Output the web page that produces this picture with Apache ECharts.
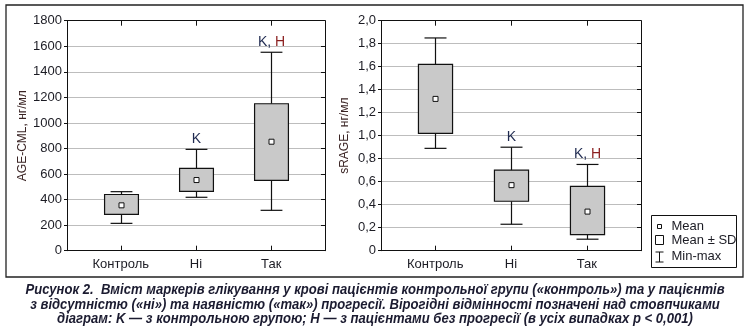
<!DOCTYPE html>
<html><head><meta charset="utf-8">
<script src="https://cdn.jsdelivr.net/npm/echarts@6/dist/echarts.min.js"></script>
<style>html,body{margin:0;padding:0;background:#fff}#c{width:750px;height:332px}</style>
</head><body><div id="c"></div>
<script>
// ---- data ----
const categories = ['Контроль', 'Ні', 'Так'];
const catPos = [0, 1, 2];
// AGE-CML, нг/мл
const ageMin    = [214, 418, 316];
const ageSdLow  = [285, 465, 551];
const ageMean   = [355, 553, 853];
const ageSdHigh = [440, 645, 1150];
const ageMax    = [462, 793, 1553];
const ageMarks  = ['', 'K', 'K, H'];
// sRAGE, нг/мл
const srMin    = [0.89, 0.23, 0.10];
const srSdLow  = [1.02, 0.43, 0.14];
const srMean   = [1.32, 0.57, 0.34];
const srSdHigh = [1.62, 0.70, 0.56];
const srMax    = [1.85, 0.90, 0.75];
const srMarks  = ['', 'K', 'K, H'];
const ageTicks = [0, 1800, 200];
const srTicks = [0, 2.0, 0.2];
const captionLines = [
  'Рисунок 2.  Вміст маркерів глікування у крові пацієнтів контрольної групи («контроль») та у пацієнтів',
  'з відсутністю («ні») та наявністю («так») прогресії. Вірогідні відмінності позначені над стовпчиками',
  'діаграм: K — з контрольною групою; Н — з пацієнтами без прогресії (в усіх випадках p < 0,001)'
];

const INK = '#1c1c24';
function rows(mn, lo, me, hi, mx) {
  return catPos.map((p, i) => [p, mn[i], lo[i], me[i], hi[i], mx[i]]);
}
function makeRender(marks) {
  return function (params, api) {
    const x = api.value(0);
    const pMin = api.coord([x, api.value(1)]);
    const pLo = api.coord([x, api.value(2)]);
    const pMean = api.coord([x, api.value(3)]);
    const pHi = api.coord([x, api.value(4)]);
    const pMax = api.coord([x, api.value(5)]);
    const bw = api.size([0.45, 0])[0];
    const cw = api.size([0.29, 0])[0];
    const cx = Math.round(pMin[0]) + 0.5;
    const ln = { stroke: '#111', lineWidth: 1.2 };
    const ch = [
      { type: 'line', shape: { x1: cx, y1: pMax[1], x2: cx, y2: pHi[1] }, style: ln },
      { type: 'line', shape: { x1: cx, y1: pLo[1], x2: cx, y2: pMin[1] }, style: ln },
      { type: 'line', shape: { x1: cx - cw / 2, y1: pMax[1], x2: cx + cw / 2, y2: pMax[1] }, style: ln },
      { type: 'line', shape: { x1: cx - cw / 2, y1: pMin[1], x2: cx + cw / 2, y2: pMin[1] }, style: ln },
      { type: 'rect', shape: { x: cx - bw / 2, y: pHi[1], width: bw, height: pLo[1] - pHi[1] },
        style: { fill: '#c9c9c9', stroke: '#111', lineWidth: 1.2 } },
      { type: 'rect', shape: { x: cx - 2.5, y: pMean[1] - 2.5, width: 5, height: 5 },
        style: { fill: '#fff', stroke: '#111', lineWidth: 1 } }
    ];
    const m = marks[params.dataIndex];
    if (m) {
      const rt = m.replace('K', '{k|K}').replace(', ', '{k|, }').replace('H', '{h|H}');
      ch.push({ type: 'text', x: cx, y: pMax[1] - 3,
        style: { text: rt, align: 'center', verticalAlign: 'bottom',
          font: '14px "Liberation Sans", Arial, sans-serif', fill: INK,
          rich: { k: { fill: '#1f2a50', font: '14px "Liberation Sans", Arial, sans-serif' },
                  h: { fill: '#8a1e1e', font: '14px "Liberation Sans", Arial, sans-serif' } } } });
    }
    return { type: 'group', children: ch };
  };
}

const font = '"Liberation Sans", Arial, sans-serif';
function xAxes(gi) {
  const base = { type: 'value', gridIndex: gi, min: -0.715, max: 2.715,
    axisLine: { show: true, onZero: false, lineStyle: { color: '#111', width: 1 } }, splitLine: { show: false } };
  return [
    Object.assign({}, base, { position: 'bottom',
      axisTick: { show: true, inside: true, length: 5, customValues: catPos, lineStyle: { color: '#111' } },
      axisLabel: { show: true, customValues: catPos, margin: 7, color: INK, fontSize: 13, fontFamily: font,
        formatter: v => categories[Math.round(v)] } }),
    Object.assign({}, base, { position: 'top',
      axisTick: { show: true, inside: true, length: 5, customValues: catPos, lineStyle: { color: '#111' } },
      axisLabel: { show: false } })
  ];
}
function yAxes(gi, t, name, gap, fmt) {
  const base = { type: 'value', gridIndex: gi, min: t[0], max: t[1], interval: t[2],
    axisLine: { show: true, onZero: false, lineStyle: { color: '#111', width: 1 } } };
  return [
    Object.assign({}, base, { position: 'left', name: name, nameLocation: 'middle', nameGap: gap,
      nameTextStyle: { color: '#3a2424', fontSize: 12, fontFamily: font },
      axisTick: { show: true, inside: false, length: 3, lineStyle: { color: '#111' } },
      axisLabel: { margin: 5, color: INK, fontSize: 13, fontFamily: font, formatter: fmt },
      splitLine: { show: true, lineStyle: { color: '#bdbdbd', width: 1 } } }),
    Object.assign({}, base, { position: 'right',
      axisTick: { show: true, inside: true, length: 4, lineStyle: { color: '#111' } },
      axisLabel: { show: false }, splitLine: { show: false } })
  ];
}

const capFont = 'italic bold 14px "Liberation Sans", Arial, sans-serif';
const capScale = 0.935;
const chart = echarts.init(document.getElementById('c'), null, { renderer: 'canvas' });
chart.setOption({
  animation: false,
  backgroundColor: '#fff',
  grid: [
    { left: 67, top: 20.7, width: 258, height: 230, show: false },
    { left: 381, top: 20.7, width: 260, height: 230, show: false }
  ],
  xAxis: xAxes(0).concat(xAxes(1)),
  yAxis: yAxes(0, ageTicks, 'AGE-CML, нг/мл', 34, v => String(v))
    .concat(yAxes(1, srTicks, 'sRAGE, нг/мл', 30, v => v === 0 ? '0' : v.toFixed(1).replace('.', ','))),
  series: [
    { type: 'custom', xAxisIndex: 0, yAxisIndex: 0, renderItem: makeRender(ageMarks),
      data: rows(ageMin, ageSdLow, ageMean, ageSdHigh, ageMax), encode: { x: 0, y: [1, 2, 3, 4, 5] }, clip: false },
    { type: 'custom', xAxisIndex: 2, yAxisIndex: 2, renderItem: makeRender(srMarks),
      data: rows(srMin, srSdLow, srMean, srSdHigh, srMax), encode: { x: 0, y: [1, 2, 3, 4, 5] }, clip: false }
  ],
  graphic: [
    { type: 'rect', shape: { x: 6, y: 5, width: 737, height: 272 }, style: { fill: 'none', stroke: '#222', lineWidth: 1.3 }, silent: true },
    { type: 'group', left: 651, top: 215, children: [
      { type: 'rect', shape: { x: 0, y: 0, width: 85, height: 52 }, style: { fill: '#fff', stroke: '#111', lineWidth: 1 } },
      { type: 'rect', shape: { x: 6, y: 9, width: 4, height: 4 }, style: { fill: '#fff', stroke: '#111', lineWidth: 1 } },
      { type: 'text', x: 20, y: 11, style: { text: 'Mean', font: '13px ' + font, fill: INK, verticalAlign: 'middle' } },
      { type: 'rect', shape: { x: 4, y: 20, width: 8, height: 9 }, style: { fill: '#fff', stroke: '#111', lineWidth: 1 } },
      { type: 'text', x: 20, y: 25, style: { text: 'Mean ± SD', font: '13px ' + font, fill: INK, verticalAlign: 'middle' } },
      { type: 'line', shape: { x1: 4, y1: 36.5, x2: 12, y2: 36.5 }, style: { stroke: '#111', lineWidth: 1 } },
      { type: 'line', shape: { x1: 8, y1: 36.5, x2: 8, y2: 46.5 }, style: { stroke: '#111', lineWidth: 1 } },
      { type: 'line', shape: { x1: 4, y1: 46.5, x2: 12, y2: 46.5 }, style: { stroke: '#111', lineWidth: 1 } },
      { type: 'text', x: 20, y: 41, style: { text: 'Min-max', font: '13px ' + font, fill: INK, verticalAlign: 'middle' } }
    ] }
  ].concat(captionLines.map((t, i) => ({
    type: 'text', x: 375, y: 290 + i * 14.7, scaleX: capScale, originX: 0, silent: true,
    style: { text: t, font: capFont, fill: '#1b1b30', align: 'center', verticalAlign: 'middle' }
  })))
});
</script></body></html>
